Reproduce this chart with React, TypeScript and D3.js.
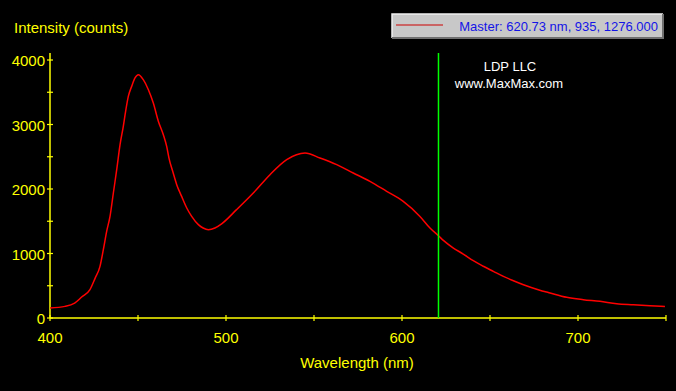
import React, { useRef, useEffect } from 'react';
import * as d3 from 'd3';

// spectrum (wavelength nm, intensity counts)
const wavelengths = [
  400, 408.5, 414, 418, 422.7, 425.6, 428.4, 430.3, 432.2, 434.1, 436, 437.9, 439.8, 441.7,
  442.6, 444.5, 446.4, 448.3, 450.2, 453, 455.9, 458.7, 461.6, 464.4, 466.3, 467.6, 470,
  472, 474.8, 477.7, 480.5, 484.3, 487, 490, 493.7, 497.5, 506, 515.5, 525, 534.5, 544.9, 553.4,
  562.9, 572.3, 581.8, 591.3, 600.7, 610.2, 615.9, 620.7, 623.5, 629.2, 634.8, 640.5, 646.2,
  651.9, 657.6, 663.3, 669, 677.4, 684.1, 693.6, 703, 712.5, 722, 731.4, 740.9, 749.4,
];
const counts = [
  155, 180, 232, 325, 440, 615, 800, 1059, 1343, 1575, 1938, 2299, 2687, 2980,
  3140, 3436, 3591, 3721, 3772, 3695, 3540, 3333, 3048, 2842, 2660, 2480, 2248,
  2067, 1885, 1705, 1575, 1447, 1395, 1369, 1395, 1460, 1680, 1938, 2222, 2455, 2558, 2480,
  2377, 2248, 2118, 1963, 1808, 1575, 1395, 1276, 1203, 1085, 992, 888, 802,
  723, 645, 578, 516, 439, 388, 320, 284, 258, 222, 206, 191, 180,
];

const xMajor = [400, 500, 600, 700];
const xMinor = [450, 550, 650, 750];
const yMajor = [0, 1000, 2000, 3000, 4000];
const yMinor = [500, 1500, 2500, 3500];

const cursorNm = 620.73;
const legendText = 'Master: 620.73 nm, 935, 1276.000';

const W = 676;
const H = 391;

const Spectrum = () => {
  const svgRef = useRef<SVGSVGElement>(null);

  useEffect(() => {
    const yellow = '#ffff00';
    const font = 'Arial, "Liberation Sans", sans-serif';
    const svg = d3.select(svgRef.current);
    svg.selectAll('*').remove();

    svg.append('rect').attr('width', W).attr('height', H).attr('fill', '#000');

    const x = d3.scaleLinear().domain([400, 750]).range([50, 666]);
    const y = d3.scaleLinear().domain([0, 4000]).range([318, 60]);

    const data = wavelengths.map((w, i) => ({ w, c: counts[i] }));

    // axes
    svg.append('line')
      .attr('x1', x(400)).attr('x2', x(400))
      .attr('y1', y(0)).attr('y2', y(4110))
      .attr('stroke', yellow).attr('stroke-width', 1.5);
    svg.append('line')
      .attr('x1', x(400)).attr('x2', x(750))
      .attr('y1', y(0)).attr('y2', y(0))
      .attr('stroke', yellow).attr('stroke-width', 1.5);

    svg.selectAll('.ytick')
      .data(yMajor.concat(yMinor))
      .enter()
      .append('line')
      .attr('x1', x(400) - 3).attr('x2', x(400) + 3)
      .attr('y1', (d) => y(d)).attr('y2', (d) => y(d))
      .attr('stroke', yellow).attr('stroke-width', 1.2);

    svg.selectAll('.xtick')
      .data(xMajor.concat(xMinor))
      .enter()
      .append('line')
      .attr('x1', (d) => x(d)).attr('x2', (d) => x(d))
      .attr('y1', y(0) - 3).attr('y2', y(0) + 3)
      .attr('stroke', yellow).attr('stroke-width', 1.2);

    svg.selectAll('.ylabel')
      .data(yMajor)
      .enter()
      .append('text')
      .attr('x', x(400) - 5)
      .attr('y', (d) => y(d) + 6)
      .attr('text-anchor', 'end')
      .attr('fill', yellow)
      .attr('font-family', font)
      .attr('font-size', 15)
      .text((d) => d);

    svg.selectAll('.xlabel')
      .data(xMajor)
      .enter()
      .append('text')
      .attr('x', (d) => x(d))
      .attr('y', 343)
      .attr('text-anchor', 'middle')
      .attr('fill', yellow)
      .attr('font-family', font)
      .attr('font-size', 15)
      .text((d) => d);

    svg.append('text')
      .attr('x', 14).attr('y', 33)
      .attr('fill', yellow)
      .attr('font-family', font)
      .attr('font-size', 15)
      .text('Intensity (counts)');

    svg.append('text')
      .attr('x', 357).attr('y', 368)
      .attr('text-anchor', 'middle')
      .attr('fill', yellow)
      .attr('font-family', font)
      .attr('font-size', 15)
      .text('Wavelength (nm)');

    // spectrum
    const line = d3.line<{ w: number; c: number }>()
      .x((d) => x(d.w))
      .y((d) => y(d.c))
      .curve(d3.curveMonotoneX);
    svg.append('path')
      .datum(data)
      .attr('d', line)
      .attr('fill', 'none')
      .attr('stroke', '#ff0000')
      .attr('stroke-width', 1.5);

    // cursor
    svg.append('line')
      .attr('x1', x(cursorNm)).attr('x2', x(cursorNm))
      .attr('y1', y(0)).attr('y2', y(4110))
      .attr('stroke', '#00ff00').attr('stroke-width', 1.5);

    // watermark
    svg.append('text')
      .attr('x', 510).attr('y', 71)
      .attr('text-anchor', 'middle')
      .attr('fill', '#fff')
      .attr('font-family', font)
      .attr('font-size', 13)
      .text('LDP LLC');
    svg.append('text')
      .attr('x', 509).attr('y', 88)
      .attr('text-anchor', 'middle')
      .attr('fill', '#fff')
      .attr('font-family', font)
      .attr('font-size', 13)
      .text('www.MaxMax.com');

    // legend box
    const lg = svg.append('g').attr('transform', 'translate(392,14)');
    lg.append('rect').attr('width', 271).attr('height', 24).attr('fill', '#c8c8c8');
    lg.append('path').attr('d', 'M0,24V0H271').attr('fill', 'none').attr('stroke', '#f0f0f0').attr('stroke-width', 1.5);
    lg.append('path').attr('d', 'M0,24H271V0').attr('fill', 'none').attr('stroke', '#707070').attr('stroke-width', 2);
    lg.append('line')
      .attr('x1', 4).attr('x2', 51).attr('y1', 11).attr('y2', 11)
      .attr('stroke', '#cc0000').attr('stroke-width', 1);
    lg.append('text')
      .attr('x', 266).attr('y', 16.5)
      .attr('text-anchor', 'end')
      .attr('fill', '#1414e6')
      .attr('font-family', font)
      .attr('font-size', 13)
      .text(legendText);
  }, []);

  return <svg ref={svgRef} width={W} height={H} style={{ display: 'block' }}></svg>;
};

export default function App() {
  return (
    <div style={{ position: 'fixed', left: 0, top: 0, width: W, height: H, background: '#000' }}>
      <Spectrum />
    </div>
  );
}
